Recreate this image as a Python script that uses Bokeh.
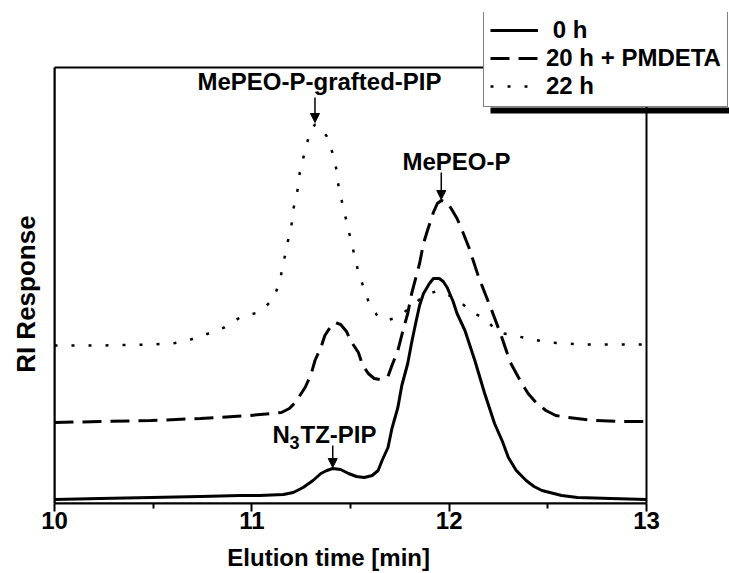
from bokeh.plotting import figure
from bokeh.models import (Range1d, Legend, LegendItem, Arrow, NormalHead,
                          BoxAnnotation, FixedTicker)
from bokeh.core.properties import value
from bokeh.embed import file_html
from bokeh.resources import INLINE

FONT = "Liberation Sans"
NBSP = "\u00a0"

# SEC traces (elution time in min, RI response in arbitrary units)
time_0h = [10.00, 10.23, 10.49, 10.74, 10.94, 11.04, 11.16, 11.21, 11.26, 11.31,
           11.35, 11.38, 11.41, 11.45, 11.49, 11.53, 11.57, 11.61, 11.64, 11.66,
           11.69, 11.71, 11.74, 11.76, 11.79, 11.81, 11.83, 11.85, 11.87, 11.90,
           11.92, 11.95, 11.97, 11.99, 12.02, 12.04, 12.08, 12.13, 12.18, 12.23,
           12.27, 12.30, 12.34, 12.39, 12.43, 12.47, 12.57, 12.65, 12.82, 13.00]
resp_0h = [4, 5, 6, 7, 8, 8, 9, 11, 16, 23,
           30, 33, 35, 34, 30, 27, 26, 28, 33, 43,
           56, 75, 96, 118, 140, 161, 180, 198, 210, 220,
           225, 225, 222, 216, 202, 190, 173, 143, 110, 80,
           62, 46, 33, 23, 17, 13, 8, 6, 5, 4]

time_20h = [10.00, 10.23, 10.49, 10.74, 10.99, 11.10, 11.15, 11.19, 11.22, 11.27,
            11.30, 11.32, 11.35, 11.37, 11.40, 11.42, 11.45, 11.48, 11.50, 11.54,
            11.56, 11.59, 11.62, 11.65, 11.69, 11.71, 11.74, 11.77, 11.79, 11.81,
            11.85, 11.87, 11.89, 11.92, 11.94, 11.96, 11.99, 12.01, 12.04, 12.07,
            12.10, 12.15, 12.21, 12.26, 12.31, 12.36, 12.40, 12.44, 12.49, 12.54,
            12.60, 12.73, 12.87, 13.00]
resp_20h = [81, 82, 83, 85, 88, 90, 91, 95, 101, 116,
            129, 143, 156, 168, 177, 181, 179, 172, 163, 151,
            139, 130, 125, 124, 127, 138, 153, 176, 190, 210,
            240, 260, 273, 291, 300, 303, 301, 295, 285, 271,
            256, 226, 196, 170, 141, 123, 110, 101, 93, 88,
            86, 83, 82, 82]

time_22h = [10.00, 10.23, 10.49, 10.60, 10.69, 10.78, 10.86, 10.94, 11.03, 11.07,
            11.11, 11.14, 11.16, 11.18, 11.20, 11.21, 11.23, 11.24, 11.26, 11.28,
            11.30, 11.32, 11.35, 11.38, 11.41, 11.43, 11.44, 11.46, 11.48, 11.50,
            11.52, 11.54, 11.57, 11.60, 11.64, 11.68, 11.72, 11.76, 11.80, 11.85,
            11.89, 11.93, 11.97, 12.01, 12.05, 12.09, 12.14, 12.19, 12.25, 12.33,
            12.42, 12.51, 12.60, 12.68, 12.82, 13.00]
resp_22h = [158, 158, 159, 160, 164, 170, 176, 186, 191, 197,
            205, 221, 240, 260, 277, 294, 311, 328, 345, 361,
            373, 379, 376, 367, 350, 333, 316, 299, 282, 265,
            248, 231, 214, 197, 187, 183, 185, 189, 196, 204,
            209, 212, 211, 207, 202, 196, 189, 183, 171, 168,
            164, 161, 160, 159, 159, 159]

series_labels = [NBSP + "0 h", "20 h + PMDETA", "22 h"]
x_ticks = [10, 11, 12, 13]
x_minor = [10.5, 11.5, 12.5]
x_lo, x_hi = 10, 13          # plotted time window
y_lo, y_hi = 0, 436          # plotted response window

# The legend sits partly above and right of the axes box, so the drawing
# area is extended past the box to the top and right edges of the canvas.
W, H = 729, 573
LEFT, BOTTOM = 54, 70
BOX_W, BOX_H = 592, 436       # axes box size in pixels
TOP = 12
ext_w = W - LEFT              # drawing area width
ext_h = H - BOTTOM - TOP      # drawing area height
x_end = x_lo + (x_hi - x_lo) * ext_w / BOX_W
y_end = y_lo + (y_hi - y_lo) * ext_h / BOX_H

p = figure(width=W, height=H, output_backend="svg", toolbar_location=None,
           x_range=Range1d(x_lo, x_end), y_range=Range1d(y_lo, y_end),
           min_border_left=LEFT, min_border_right=0,
           min_border_top=TOP, min_border_bottom=BOTTOM)
p.background_fill_color = "white"
p.border_fill_color = "white"
p.outline_line_color = None
p.xgrid.visible = False
p.ygrid.visible = False

# bottom axis; trailing no-break spaces keep the title under the axes box
xa = p.xaxis[0]
xa.bounds = (x_lo, x_hi)
xa.ticker = FixedTicker(ticks=x_ticks, minor_ticks=x_minor)
xa.axis_line_width = 2
xa.axis_line_color = "black"
xa.major_tick_line_width = 2
xa.minor_tick_line_width = 2
xa.major_tick_line_color = "black"
xa.minor_tick_line_color = "black"
xa.major_tick_in = 0
xa.major_tick_out = 8
xa.minor_tick_in = 0
xa.minor_tick_out = 5
xa.major_label_text_font = FONT
xa.major_label_text_font_style = "bold"
xa.major_label_text_font_size = "24px"
xa.major_label_text_color = "black"
xa.major_label_standoff = 0
xa.axis_label = "Elution time [min]" + NBSP * 19
xa.axis_label_text_font = FONT
xa.axis_label_text_font_style = "bold"
xa.axis_label_text_font_size = "24px"
xa.axis_label_text_color = "black"
xa.axis_label_standoff = 12

# left axis: label only
ya = p.yaxis[0]
ya.bounds = (y_lo, y_hi)
ya.ticker = FixedTicker(ticks=[])
ya.axis_line_width = 2
ya.axis_line_color = "black"
ya.major_tick_line_color = None
ya.minor_tick_line_color = None
ya.axis_label = "RI Response" + NBSP * 10
ya.axis_label_text_font = FONT
ya.axis_label_text_font_style = "bold"
ya.axis_label_text_font_size = "26px"
ya.axis_label_text_color = "black"
ya.axis_label_standoff = 14

# axes box
p.add_layout(BoxAnnotation(left=x_lo, right=x_hi, bottom=y_lo, top=y_hi,
                           fill_alpha=0, line_color="black", line_alpha=1,
                           line_width=2))

r0 = p.line(time_0h, resp_0h, line_color="black", line_width=3, line_join="round")
r20 = p.line(time_20h, resp_20h, line_color="black", line_width=3, line_dash="19 9")
r22 = p.line(time_22h, resp_22h, line_color="black", line_width=2.5, line_dash="3 14")

# peak labels with arrows
def peak(ts, rs, lo, hi):
    pts = [(r, t) for t, r in zip(ts, rs) if lo <= t <= hi]
    r, t = max(pts)
    return t, r

head = dict(size=9, fill_color="black", line_color="black", line_width=1)
common = dict(text_font=value(FONT), text_font_style="bold", text_color="black",
              text_baseline="alphabetic")

tg, rg = peak(time_22h, resp_22h, 11.0, 11.6)
p.add_layout(Arrow(end=NormalHead(**head), x_start=tg, y_start=rg + 27,
                   x_end=tg, y_end=rg + 2, line_width=1.5))
p.text(x=[11.343], y=[422], text=["MePEO-P-grafted-PIP"], text_font_size="24px",
       text_align="center", **common)

tm, rm = peak(time_20h, resp_20h, 11.8, 12.2)
p.add_layout(Arrow(end=NormalHead(**head), x_start=tm, y_start=rm + 28,
                   x_end=tm, y_end=rm + 1, line_width=1.5))
p.text(x=[12.037], y=[342], text=["MePEO-P"], text_font_size="24px",
       text_align="center", **common)

tn, rn = peak(time_0h, resp_0h, 11.3, 11.5)
p.add_layout(Arrow(end=NormalHead(**head), x_start=tn, y_start=rn + 23,
                   x_end=tn, y_end=rn + 1, line_width=1.5))
p.text(x=[11.105], y=[69], text=["N"], text_font_size="24px",
       text_align="left", **common)
p.text(x=[11.105], y=[69], text=["3"], text_font_size="18px",
       x_offset=17, y_offset=8, text_align="left", **common)
p.text(x=[11.105], y=[69], text=["TZ-PIP"], text_font_size="24px",
       x_offset=28, text_align="left", **common)

# legend drop shadow (screen units, from the drawing area's lower left)
shadow = BoxAnnotation(left=436, right=700, top=396, bottom=390,
                       left_units="screen", right_units="screen",
                       top_units="screen", bottom_units="screen",
                       fill_color="black", fill_alpha=1, line_color=None)
p.add_layout(shadow)

legend = Legend(items=[LegendItem(label=series_labels[0], renderers=[r0]),
                       LegendItem(label=series_labels[1], renderers=[r20]),
                       LegendItem(label=series_labels[2], renderers=[r22])],
                location=(429, 396), margin=0, padding=6, spacing=0,
                glyph_width=48, glyph_height=28, label_height=28,
                label_standoff=8, label_text_font=FONT,
                label_text_font_style="bold", label_text_font_size="24px",
                label_text_color="black",
                border_line_color="black", border_line_width=1.5,
                background_fill_color="white", background_fill_alpha=1)
p.add_layout(legend, "center")

open("out.html", "w").write(file_html(p, INLINE))
